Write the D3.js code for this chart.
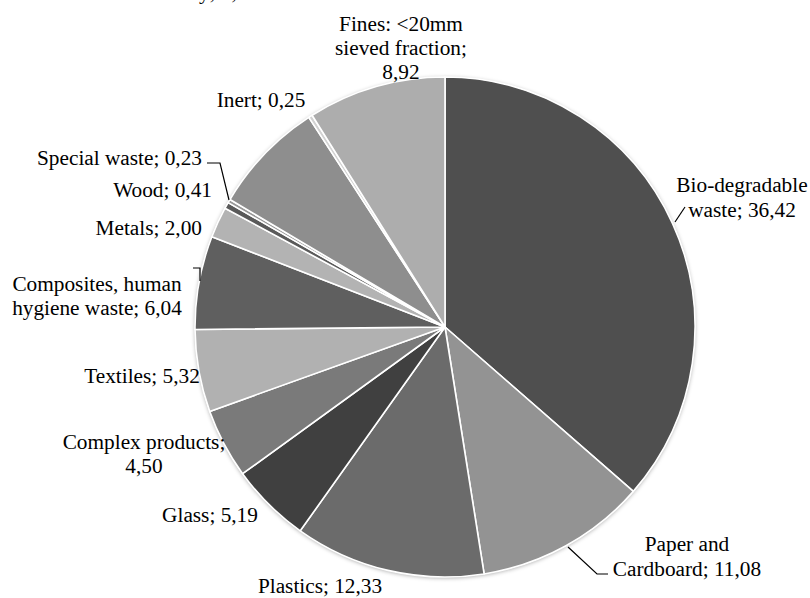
<!DOCTYPE html>
<html>
<head>
<meta charset="utf-8">
<script src="https://cdn.jsdelivr.net/npm/d3@7"></script>
<style>
  html, body { margin: 0; padding: 0; background: #fff; }
  svg { display: block; }
</style>
</head>
<body>
<svg id="chart" width="810" height="598"></svg>
<script>
// Waste composition (% by weight), clockwise from 12 o'clock
const categories = [
  "Bio-degradable waste", "Paper and Cardboard", "Plastics", "Glass",
  "Complex products", "Textiles", "Composites, human hygiene waste",
  "Metals", "Wood", "Special waste", "Sundry", "Inert",
  "Fines: <20mm sieved fraction"
];
const values = [36.42, 11.08, 12.33, 5.19, 4.50, 5.32, 6.04, 2.00, 0.41, 0.23, 7.31, 0.25, 8.92];
const valueLabels = ["36,42", "11,08", "12,33", "5,19", "4,50", "5,32", "6,04", "2,00", "0,41", "0,23", "7,31", "0,25", "8,92"];
const fills = ["#4f4f4f", "#939393", "#6b6b6b", "#404040", "#7a7a7a", "#b1b1b1", "#5f5f5f",
               "#b3b3b3", "#5a5a5a", "#999999", "#8e8e8e", "#d2d2d2", "#adadad"];

// Label text lines for each slice
const labelLines = [
  ["Bio-degradable", "waste; 36,42"],
  ["Paper and", "Cardboard; 11,08"],
  ["Plastics; 12,33"],
  ["Glass; 5,19"],
  ["Complex products;", "4,50"],
  ["Textiles; 5,32"],
  ["Composites, human", "hygiene waste; 6,04"],
  ["Metals; 2,00"],
  ["Wood; 0,41"],
  ["Special waste; 0,23"],
  ["Sundry; 7,31"],
  ["Inert; 0,25"],
  ["Fines: <20mm", "sieved fraction;", "8,92"]
];

const FONT = "Liberation Serif";

const svg = d3.select("#chart");
const cx = 445, cy = 327, R = 250;

const defs = svg.append("defs");
const shadow = defs.append("filter").attr("id", "pieShadow")
  .attr("x", "-10%").attr("y", "-10%").attr("width", "120%").attr("height", "120%");
shadow.append("feDropShadow").attr("dx", 0).attr("dy", 1).attr("stdDeviation", 2.2)
  .attr("flood-color", "#000").attr("flood-opacity", 0.35);

const data = categories.map((c, i) => ({ name: c, value: values[i], fill: fills[i], lines: labelLines[i], label: valueLabels[i] }));

const pie = d3.pie().value(d => d.value).sort(null);
const arcs = pie(data);
const arc = d3.arc().innerRadius(0).outerRadius(R);

const g = svg.append("g").attr("transform", `translate(${cx},${cy})`);
g.append("circle").attr("r", R).attr("fill", "#fff").attr("filter", "url(#pieShadow)");
g.selectAll("path.slice").data(arcs).join("path")
  .attr("class", "slice")
  .attr("d", arc)
  .attr("fill", d => d.data.fill)
  .attr("stroke", "#fff")
  .attr("stroke-width", 1.6)
  .attr("stroke-linejoin", "round");

// Label placement: anchor x, first baseline, line spacing, alignment
const labelPos = {
  "Bio-degradable waste": { x: 742, y: 192, lh: 25, anchor: "middle" },
  "Paper and Cardboard": { x: 687, y: 551, lh: 25, anchor: "middle" },
  "Plastics": { x: 320, y: 593, lh: 24, anchor: "middle" },
  "Glass": { x: 210, y: 522, lh: 24, anchor: "middle" },
  "Complex products": { x: 144, y: 449, lh: 24, anchor: "middle" },
  "Textiles": { x: 142, y: 383, lh: 24, anchor: "middle" },
  "Composites, human hygiene waste": { x: 97, y: 291, lh: 23.5, anchor: "middle" },
  "Metals": { x: 202, y: 235, lh: 24, anchor: "end" },
  "Wood": { x: 212, y: 197, lh: 24, anchor: "end" },
  "Special waste": { x: 202, y: 165, lh: 24, anchor: "end" },
  "Sundry": { x: 148, y: -1, lh: 24, anchor: "start" },
  "Inert": { x: 261, y: 107, lh: 24, anchor: "middle" },
  "Fines: <20mm sieved fraction": { x: 401, y: 31, lh: 24, anchor: "middle" }
};

const labels = svg.append("g");
data.forEach(d => {
  const p = labelPos[d.name];
  const t = labels.append("text")
    .attr("font-family", FONT)
    .attr("font-size", 21.3)
    .attr("fill", "#000")
    .attr("text-anchor", p.anchor)
    .attr("x", p.x).attr("y", p.y);
  d.lines.forEach((ln, j) => {
    t.append("tspan").attr("x", p.x).attr("y", p.y + j * p.lh).text(ln);
  });
});

// Leader lines from labels to their slices
const leaders = [
  [[685, 207], [675, 222]],
  [[568, 547], [597, 574], [608, 574]],
  [[207, 163], [220, 163], [229, 200]],
  [[193, 268], [200, 268], [200, 281]]
];
const line = d3.line();
svg.append("g").selectAll("path").data(leaders).join("path")
  .attr("d", line)
  .attr("fill", "none")
  .attr("stroke", "#000")
  .attr("stroke-width", 1.2);
</script>
</body>
</html>
